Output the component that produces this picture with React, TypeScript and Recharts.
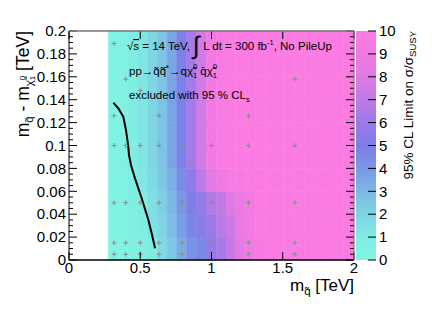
import React from 'react';
import { ComposedChart, XAxis, YAxis, ReferenceArea, Scatter, Line } from 'recharts';

const FONT = '"Liberation Sans", Arial, Helvetica, sans-serif';

// ---- data ----
const xEdges = [0.276, 0.3448, 0.4136, 0.4824, 0.5512, 0.62, 0.6888, 0.7576, 0.8264, 0.8952, 0.964, 1.0328, 1.1016, 1.1704, 1.2392, 1.308, 1.3768, 1.4456, 1.5144, 1.5832, 1.652, 1.7208, 1.7896, 1.8584, 1.9272, 2.0];
const yEdges = [0, 0.02, 0.04, 0.06, 0.08, 0.1, 0.12, 0.14, 0.16, 0.18, 0.2];

const zRow0 = [0.15, 0.3, 0.55, 0.8, 1.05, 1.7, 2.5, 3.4, 4.2, 4.6, 5.7, 6.3, 7.2, 8.4, 9.0, 9.7, 10, 10, 10, 10, 10, 10, 10, 10, 10];
const zRow1 = [0.2, 0.35, 0.65, 0.95, 1.4, 2.0, 2.8, 3.8, 4.7, 5.3, 6.0, 6.8, 7.4, 8.5, 9.0, 10, 10, 10, 10, 10, 10, 10, 10, 10, 10];
const zRow2 = [0.2, 0.4, 0.7, 1.0, 1.5, 2.2, 3.0, 4.0, 5.0, 5.8, 6.6, 7.0, 8.0, 8.7, 9.2, 10, 10, 10, 10, 10, 10, 10, 10, 10, 10];
const zRow3 = [0.3, 0.5, 0.85, 1.2, 1.7, 2.4, 3.3, 4.4, 5.6, 7.0, 8.3, 8.8, 9.3, 9.7, 10, 10, 10, 10, 10, 10, 10, 10, 10, 10, 10];
const zRow4 = [0.3, 0.5, 0.9, 1.3, 1.9, 2.6, 3.6, 4.9, 6.3, 7.6, 9.0, 9.6, 10, 10, 10, 10, 10, 10, 10, 10, 10, 10, 10, 10, 10];
const zRow5 = [0.3, 0.5, 0.9, 1.3, 1.9, 2.6, 3.6, 4.9, 6.3, 7.6, 9.0, 9.6, 10, 10, 10, 10, 10, 10, 10, 10, 10, 10, 10, 10, 10];
const zRow6 = [0.3, 0.5, 0.9, 1.3, 1.9, 2.6, 3.6, 4.9, 6.3, 7.6, 9.0, 9.6, 10, 10, 10, 10, 10, 10, 10, 10, 10, 10, 10, 10, 10];
const zRow7 = [0.3, 0.5, 0.9, 1.3, 1.9, 2.6, 3.6, 4.9, 6.3, 7.6, 9.0, 9.6, 10, 10, 10, 10, 10, 10, 10, 10, 10, 10, 10, 10, 10];
const zRow8 = [0.3, 0.5, 0.9, 1.3, 1.9, 2.6, 3.6, 4.9, 6.3, 7.6, 9.0, 9.6, 10, 10, 10, 10, 10, 10, 10, 10, 10, 10, 10, 10, 10];
const zRow9 = [0.3, 0.5, 0.9, 1.3, 1.9, 2.6, 3.6, 4.9, 6.3, 7.6, 9.0, 9.6, 10, 10, 10, 10, 10, 10, 10, 10, 10, 10, 10, 10, 10];
const zRows = [zRow0, zRow1, zRow2, zRow3, zRow4, zRow5, zRow6, zRow7, zRow8, zRow9];

const gridPoints = [
  { x: 0.316, y: 0.005 }, { x: 0.398, y: 0.005 }, { x: 0.5, y: 0.005 }, { x: 0.631, y: 0.005 }, { x: 0.794, y: 0.005 }, { x: 1.0, y: 0.005 }, { x: 1.259, y: 0.005 }, { x: 1.585, y: 0.005 },
  { x: 0.316, y: 0.015 }, { x: 0.398, y: 0.015 }, { x: 0.5, y: 0.015 }, { x: 0.631, y: 0.015 }, { x: 0.794, y: 0.015 }, { x: 1.0, y: 0.015 }, { x: 1.259, y: 0.015 }, { x: 1.585, y: 0.015 },
  { x: 0.316, y: 0.05 }, { x: 0.398, y: 0.05 }, { x: 0.5, y: 0.05 }, { x: 0.631, y: 0.05 }, { x: 0.794, y: 0.05 }, { x: 1.0, y: 0.05 }, { x: 1.259, y: 0.05 }, { x: 1.585, y: 0.05 },
  { x: 0.316, y: 0.1 }, { x: 0.398, y: 0.1 }, { x: 0.5, y: 0.1 }, { x: 0.631, y: 0.1 }, { x: 0.794, y: 0.1 }, { x: 1.0, y: 0.1 }, { x: 1.259, y: 0.1 }, { x: 1.585, y: 0.1 },
  { x: 0.316, y: 0.126 }, { x: 0.631, y: 0.126 }, { x: 1.259, y: 0.126 },
  { x: 0.5, y: 0.148 },
  { x: 0.398, y: 0.158 }, { x: 1.585, y: 0.158 },
  { x: 0.316, y: 0.189 },
];

const contour = [
  { x: 0.311, y: 0.1374 }, { x: 0.346, y: 0.1325 }, { x: 0.381, y: 0.1252 }, { x: 0.4, y: 0.1135 },
  { x: 0.416, y: 0.099 }, { x: 0.421, y: 0.0917 }, { x: 0.435, y: 0.083 }, { x: 0.463, y: 0.0713 },
  { x: 0.51, y: 0.0539 }, { x: 0.557, y: 0.0349 }, { x: 0.58, y: 0.0233 }, { x: 0.604, y: 0.0102 },
];

const xTicks = [0, 0.5, 1, 1.5, 2];
const yMajorTicks = [0, 0.02, 0.04, 0.06, 0.08, 0.1, 0.12, 0.14, 0.16, 0.18, 0.2];
const yMinorTicks = [0.005, 0.01, 0.015, 0.025, 0.03, 0.035, 0.045, 0.05, 0.055, 0.065, 0.07, 0.075, 0.085, 0.09, 0.095, 0.105, 0.11, 0.115, 0.125, 0.13, 0.135, 0.145, 0.15, 0.155, 0.165, 0.17, 0.175, 0.185, 0.19, 0.195];
const zTicks = [0, 1, 2, 3, 4, 5, 6, 7, 8, 9, 10];

// palette stops: value, r, g, b
const palette = [
  [0, 128, 246, 226],
  [1, 128, 236, 226],
  [2, 126, 212, 227],
  [3, 124, 185, 228],
  [4, 122, 150, 230],
  [5, 125, 126, 232],
  [6, 155, 122, 232],
  [7, 192, 122, 230],
  [8, 222, 122, 228],
  [9, 242, 122, 226],
  [10, 250, 124, 226],
];

// ---- layout ----
const W = 432, H = 310;
const PL = 69, PR = 354, PT = 31, PB = 260;
const CBL = 356, CBR = 376;
const TICK_FS = 15;

function colorFor(v: number) {
  if (v <= palette[0][0]) return `rgb(${palette[0][1]},${palette[0][2]},${palette[0][3]})`;
  for (let i = 0; i < palette.length - 1; i++) {
    const a = palette[i], b = palette[i + 1];
    if (v <= b[0]) {
      const t = (v - a[0]) / (b[0] - a[0]);
      const r = Math.round(a[1] + t * (b[1] - a[1]));
      const g = Math.round(a[2] + t * (b[2] - a[2]));
      const bl = Math.round(a[3] + t * (b[3] - a[3]));
      return `rgb(${r},${g},${bl})`;
    }
  }
  const l = palette[palette.length - 1];
  return `rgb(${l[1]},${l[2]},${l[3]})`;
}

const fmt = (v: number) => String(Number(v.toFixed(3)));
const isMajorY = (v: number) => yMajorTicks.some((m) => Math.abs(m - v) < 1e-9);

const XTick = (props: any) => {
  const { x, payload } = props;
  return (
    <g>
      <line x1={x} x2={x} y1={PB} y2={PB - 8} stroke="#000" strokeWidth={1} />
      <line x1={x} x2={x} y1={PT} y2={PT + 8} stroke="#000" strokeWidth={1} />
      <text x={x} y={273} textAnchor="middle" fontSize={TICK_FS} fontFamily={FONT} fill="#000">{fmt(payload.value)}</text>
    </g>
  );
};

const YTick = (props: any) => {
  const { y, payload } = props;
  const major = isMajorY(payload.value);
  const len = major ? 8 : 4;
  return (
    <g>
      <line x1={PL} x2={PL + len} y1={y} y2={y} stroke="#000" strokeWidth={1} />
      <line x1={PR} x2={PR - len} y1={y} y2={y} stroke="#000" strokeWidth={1} />
      {major && (
        <text x={66} y={y + 5.2} textAnchor="end" fontSize={TICK_FS} fontFamily={FONT} fill="#000">{fmt(payload.value)}</text>
      )}
    </g>
  );
};

const ZTick = (props: any) => {
  const { y, payload } = props;
  return (
    <g>
      <line x1={CBR} x2={CBR - 8} y1={y} y2={y} stroke="#000" strokeWidth={1} />
      <text x={379} y={y + 5.2} textAnchor="start" fontSize={TICK_FS} fontFamily={FONT} fill="#000">{payload.value}</text>
    </g>
  );
};

const Plus = (p: any) => {
  const { cx, cy } = p;
  return (
    <g stroke="#8c8c8c" strokeWidth={1}>
      <line x1={cx - 2.5} x2={cx + 2.5} y1={cy} y2={cy} />
      <line x1={cx} x2={cx} y1={cy - 2.5} y2={cy + 2.5} />
    </g>
  );
};

const abs = (extra?: any): React.CSSProperties => ({ position: 'absolute', left: 0, top: 0, ...(extra || {}) });

export default function App() {
  const cells: any[] = [];
  zRows.forEach((row, j) => {
    row.forEach((v, i) => {
      const c = colorFor(v);
      cells.push(
        <ReferenceArea
          key={`c${j}-${i}`}
          x1={xEdges[i]}
          x2={xEdges[i + 1]}
          y1={yEdges[j]}
          y2={yEdges[j + 1]}
          fill={c}
          fillOpacity={1}
          stroke={c}
          strokeWidth={0.6}
          ifOverflow="visible"
        />
      );
    });
  });

  const cbData = zTicks.map((z) => ({ x: 0.5, z }));

  return (
    <div style={abs({ width: W, height: H, background: '#fff' })}>
      <div style={abs()}>
        <ComposedChart width={W} height={H} margin={{ top: PT, right: W - PR, bottom: H - PB - 1, left: PL - 1 }}>
          <XAxis
            type="number"
            dataKey="x"
            domain={[0, 2]}
            ticks={xTicks}
            interval={0}
            height={1}
            allowDataOverflow
            tickLine={false}
            axisLine={{ stroke: '#000', strokeWidth: 1.5 }}
            tick={XTick}
          />
          <YAxis
            type="number"
            domain={[0, 0.2]}
            ticks={[...yMajorTicks, ...yMinorTicks].sort((a, b) => a - b)}
            interval={0}
            width={1}
            allowDataOverflow
            tickLine={false}
            axisLine={{ stroke: '#000', strokeWidth: 1 }}
            tick={YTick}
          />
          {cells}
          <Scatter data={gridPoints} dataKey="y" shape={Plus} isAnimationActive={false} />
          <Line data={contour} dataKey="y" type="linear" stroke="#000" strokeWidth={2} dot={false} activeDot={false} isAnimationActive={false} />
        </ComposedChart>
      </div>
      <div style={abs()}>
        <ComposedChart width={W} height={H} data={cbData} margin={{ top: PT, right: W - CBR - 1, bottom: H - PB, left: CBL }}>
          <defs>
            <linearGradient id="cbGrad" x1="0" y1="1" x2="0" y2="0">
              {palette.map((p) => (
                <stop key={p[0]} offset={`${p[0] * 10}%`} stopColor={`rgb(${p[1]},${p[2]},${p[3]})`} />
              ))}
            </linearGradient>
          </defs>
          <XAxis type="number" dataKey="x" domain={[0, 1]} hide allowDataOverflow />
          <YAxis
            type="number"
            dataKey="z"
            orientation="right"
            domain={[0, 10]}
            ticks={zTicks}
            interval={0}
            width={1}
            allowDataOverflow
            tickLine={false}
            axisLine={false}
            tick={ZTick}
          />
          <ReferenceArea x1={0} x2={1} y1={0} y2={10} fill="url(#cbGrad)" fillOpacity={1} stroke="none" ifOverflow="visible" />
        </ComposedChart>
      </div>
      <svg width={W} height={H} style={abs({ pointerEvents: 'none' })} fontFamily={FONT}>
        {/* frame top/right */}
        <line x1={PL} x2={PR} y1={PT} y2={PT} stroke="#777" strokeWidth={1.5} />
        <line x1={PR} x2={PR} y1={PT} y2={PB} stroke="#777" strokeWidth={1} />
        {/* in-plot text */}
        <text x={127} y={50} fontSize={11.5} fill="#000">
          <tspan>√</tspan>
          <tspan style={{ textDecoration: 'overline' }}>s</tspan>
          <tspan> = 14 TeV, </tspan>
          <tspan fontSize={25} dy={4}>∫</tspan>
          <tspan dy={-4}> L dt = 300 fb</tspan>
          <tspan fontSize={7.5} dy={-5}>-1</tspan>
          <tspan dy={5}>, No PileUp</tspan>
        </text>
        <text x={129} y={75} fontSize={11.5} fill="#000">
          <tspan>pp→q̃q̃̄</tspan>
          <tspan fontSize={7.5} dy={-5}>*</tspan>
          <tspan dy={5}>→qχ̃</tspan>
          <tspan fontSize={7.5} dy={-6}>0</tspan>
          <tspan fontSize={7.5} dx={-4.2} dy={9}>1</tspan>
          <tspan dy={-3}> q̄χ̃</tspan>
          <tspan fontSize={7.5} dy={-6}>0</tspan>
          <tspan fontSize={7.5} dx={-4.2} dy={9}>1</tspan>
        </text>
        <text x={129} y={99} fontSize={11.5} fill="#000">
          <tspan>excluded with 95 % CL</tspan>
          <tspan fontSize={7.5} dy={3}>s</tspan>
        </text>
        {/* x title */}
        <text x={PR} y={291} textAnchor="end" fontSize={17} fill="#000">
          <tspan>m</tspan>
          <tspan fontSize={11.5} dy={4}>q̃</tspan>
          <tspan dy={-4}> [TeV]</tspan>
        </text>
        {/* y title */}
        <text transform={`translate(29,${PT}) rotate(-90)`} textAnchor="end" fontSize={17.5} fill="#000">
          <tspan>m</tspan>
          <tspan fontSize={11.5} dy={4}>q̃</tspan>
          <tspan dy={-4}> - m</tspan>
          <tspan fontSize={11.5} dy={4}>χ̃</tspan>
          <tspan fontSize={8} dy={-8}>0</tspan>
          <tspan fontSize={8} dx={-4.5} dy={10}>1</tspan>
          <tspan dy={-6}> [TeV]</tspan>
        </text>
        {/* z title */}
        <text transform={`translate(413,${PT}) rotate(-90)`} textAnchor="end" fontSize={13.5} fill="#000">
          <tspan>95% CL Limit on σ/σ</tspan>
          <tspan fontSize={9.5} dy={3}>SUSY</tspan>
        </text>
      </svg>
    </div>
  );
}
